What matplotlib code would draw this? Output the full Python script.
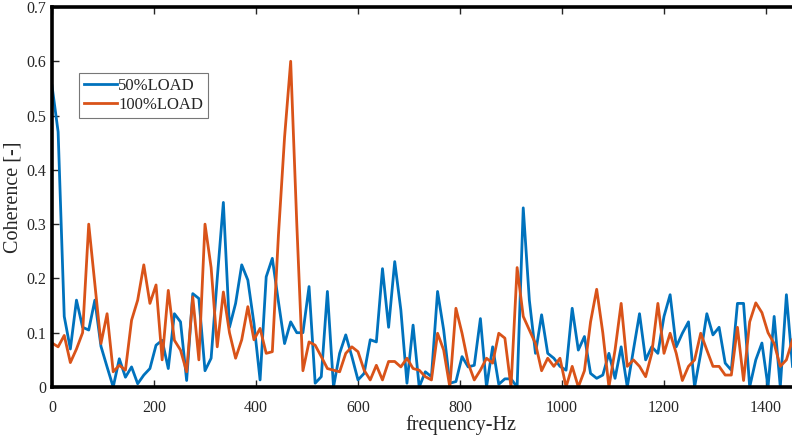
import numpy as np
import matplotlib
matplotlib.use("Agg")
import matplotlib.pyplot as plt

plt.rcParams['font.family'] = ['Liberation Serif', 'DejaVu Serif']

freq_step = 12.0
load50 = [0.555, 0.47, 0.13, 0.07, 0.16, 0.11, 0.105, 0.16, 0.075, 0.037,
          0.0, 0.052, 0.018, 0.037, 0.006, 0.022, 0.034, 0.077, 0.086, 0.034,
          0.135, 0.12, 0.012, 0.172, 0.163, 0.03, 0.053, 0.20, 0.34, 0.11,
          0.154, 0.225, 0.197, 0.117, 0.013, 0.203, 0.237, 0.157, 0.08, 0.12,
          0.10, 0.10, 0.185, 0.007, 0.019, 0.176, 0.0, 0.062, 0.096, 0.056,
          0.013, 0.025, 0.087, 0.083, 0.218, 0.11, 0.231, 0.142, 0.007, 0.114,
          0.0, 0.028, 0.019, 0.176, 0.105, 0.007, 0.01, 0.056, 0.037, 0.04,
          0.126, 0.0, 0.074, 0.005, 0.015, 0.015, 0.0, 0.33, 0.16, 0.062,
          0.133, 0.062, 0.053, 0.038, 0.031, 0.145, 0.068, 0.093, 0.025, 0.016,
          0.022, 0.062, 0.016, 0.074, 0.0, 0.068, 0.135, 0.05, 0.074, 0.062,
          0.13, 0.17, 0.074, 0.099, 0.12, 0.0, 0.062, 0.135, 0.096, 0.11,
          0.044, 0.031, 0.154, 0.154, 0.0, 0.05, 0.081, 0.0, 0.13, 0.0,
          0.17, 0.038]
load100 = [0.081, 0.074, 0.095, 0.045, 0.07, 0.10, 0.30, 0.19, 0.08, 0.135,
           0.028, 0.04, 0.031, 0.123, 0.16, 0.225, 0.154, 0.188, 0.05, 0.178,
           0.086, 0.068, 0.028, 0.166, 0.05, 0.30, 0.22, 0.074, 0.175, 0.10,
           0.053, 0.087, 0.148, 0.087, 0.108, 0.062, 0.065, 0.28, 0.46, 0.60,
           0.30, 0.03, 0.083, 0.077, 0.056, 0.034, 0.031, 0.028, 0.062, 0.074,
           0.065, 0.031, 0.013, 0.04, 0.013, 0.047, 0.047, 0.037, 0.053, 0.034,
           0.031, 0.019, 0.013, 0.099, 0.068, 0.0, 0.145, 0.099, 0.044, 0.013,
           0.031, 0.053, 0.044, 0.099, 0.09, 0.0, 0.22, 0.13, 0.105, 0.08,
           0.03, 0.053, 0.038, 0.053, 0.0, 0.038, 0.0, 0.03, 0.12, 0.18,
           0.10, 0.0, 0.068, 0.154, 0.038, 0.05, 0.038, 0.019, 0.062, 0.154,
           0.062, 0.099, 0.062, 0.012, 0.038, 0.05, 0.099, 0.068, 0.038, 0.038,
           0.022, 0.022, 0.11, 0.012, 0.12, 0.155, 0.137, 0.10, 0.08, 0.038,
           0.05, 0.087]
xticks = [0, 200, 400, 600, 800, 1000, 1200, 1400]
yticks = [0, 0.1, 0.2, 0.3, 0.4, 0.5, 0.6, 0.7]
ytick_labels = ['0', '0.1', '0.2', '0.3', '0.4', '0.5', '0.6', '0.7']

f50 = np.arange(len(load50)) * freq_step
f100 = np.arange(len(load100)) * freq_step

W, H = 792, 438
fig = plt.figure(figsize=(W / 100, H / 100), dpi=100)
ax = fig.add_axes([52 / W, (H - 387) / H, (W - 52) / W, 380 / H])

ax.plot(f50, load50, color='#0072BD', lw=2.0, label='50%LOAD')
ax.plot(f100, load100, color='#D95319', lw=2.0, label='100%LOAD')

ax.set_xlim(0, (W - 52) / 0.51)
ax.set_ylim(0, 0.7)
ax.set_xticks(xticks)
ax.set_yticks(yticks)
ax.set_yticklabels(ytick_labels)
txtc = '#262626'
ax.tick_params(direction='in', length=5, width=1.0, labelsize=11.5,
               colors=txtc, top=True, right=False)
ax.tick_params(axis='x', pad=9)
ax.tick_params(axis='y', pad=4)
for s in ['left', 'bottom', 'top']:
    ax.spines[s].set_linewidth(2.6)
    ax.spines[s].set_color('black')
ax.spines['right'].set_visible(False)

ax.set_xlabel('frequency-Hz', fontsize=14.5, color=txtc)
ax.xaxis.set_label_coords((461 - 52) / (W - 52), -0.075)
ax.set_ylabel('Coherence [-]', fontsize=14.5, color=txtc)
ax.yaxis.set_label_coords(-(52 - 22) / (W - 52), 0.5)

leg = ax.legend(loc='upper left', bbox_to_anchor=(79 / W, 1 - 73 / H),
                bbox_transform=fig.transFigure, fontsize=12,
                frameon=True, fancybox=False, edgecolor='#555555',
                handlelength=2.0, handletextpad=0.05, borderpad=0.3,
                labelspacing=0.2, borderaxespad=0)
leg.get_frame().set_linewidth(0.8)
for t in leg.get_texts():
    t.set_color(txtc)

fig.savefig('out.png', dpi=100)
